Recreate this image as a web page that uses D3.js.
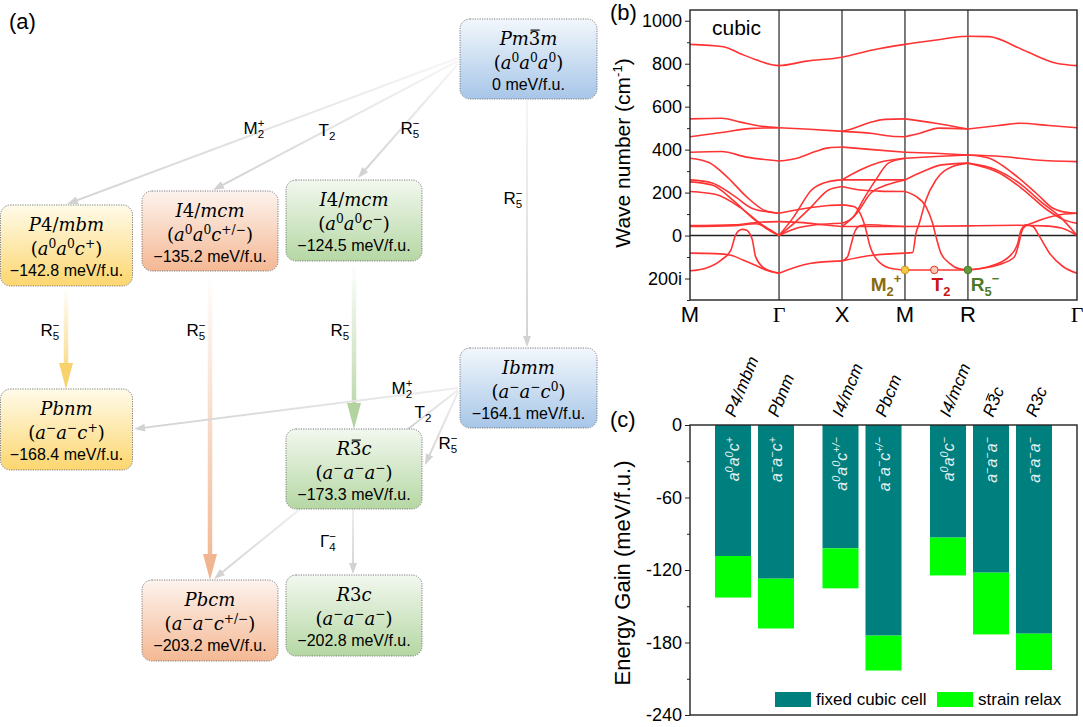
<!DOCTYPE html>
<html>
<head>
<meta charset="utf-8">
<script src="https://cdn.jsdelivr.net/npm/d3@7"></script>
<style>
  body { margin: 0; background: #fff; }
  svg { display: block; font-family: "Liberation Sans", Arial, sans-serif; }
</style>
</head>
<body>
<svg width="1083" height="727"></svg>
<script>
// ---------- (a) phase tree ----------
const phaseNames = ["Pm3\u0304m", "P4/mbm", "I4/mcm", "I4/mcm", "Ibmm", "Pbnm", "R3\u0304c", "Pbcm", "R3c"];
const phaseTilts = ["(a^0a^0a^0)", "(a^0a^0c^+)", "(a^0a^0c^{+/−})", "(a^0a^0c^−)", "(a^−a^−c^0)",
                    "(a^−a^−c^+)", "(a^−a^−a^−)", "(a^−a^−c^{+/−})", "(a^−a^−a^−)"];
const phaseEnergies = [0, -142.8, -135.2, -124.5, -164.1, -168.4, -173.3, -203.2, -202.8];
const phaseFamily = ["blue", "yellow", "orange", "green", "blue", "yellow", "green", "orange", "green"];
// [from, to, irrep]
const transitions = [[0, 1, "M_2^+"], [0, 2, "T_2"], [0, 3, "R_5^−"], [0, 4, "R_5^−"],
                     [1, 5, "R_5^−"], [2, 7, "R_5^−"], [3, 6, "R_5^−"],
                     [4, 5, "M_2^+"], [4, 6, "T_2"], [4, 6, "R_5^−"], [6, 7, ""], [6, 8, "Γ_4^−"]];

// ---------- (b) phonon bands of the cubic phase ----------
const kTicks = [0, 1.414, 2.414, 3.414, 4.414, 6.146];
const kLabels = ["M", "Γ", "X", "M", "R", "Γ"];
const freqTicks = [-200, 0, 200, 400, 600, 800, 1000];
// each band: [k, wave number], imaginary modes negative
const bands = [
  [[0,890],[0.53,879],[0.79,848],[1.06,817],[1.414,791],[1.85,812],[2.414,830],[2.9,864],[3.414,890],[3.91,910],[4.414,928],[4.75,926],[5.29,864],[5.82,802],[6.146,791]],
  // M-Γ
  [[0,543],[0.5,546],[0.8,528],[1.1,510],[1.414,502]],
  [[0,460],[0.5,480],[1.0,499],[1.414,502]],
  [[0,388],[0.5,391],[0.9,365],[1.414,347]],
  [[0,360],[0.3,340],[0.6,270],[0.9,180],[1.2,115],[1.414,104]],
  [[0,259],[0.35,245],[0.7,185],[1.0,125],[1.414,104]],
  [[0,250],[0.35,235],[0.7,160],[1.0,80],[1.25,25],[1.414,0]],
  [[0,205],[0.4,192],[0.8,130],[1.1,60],[1.414,0]],
  [[0,42],[0.7,46],[1.05,55],[1.25,30],[1.414,0]],
  [[0,46],[0.7,50],[1.1,62],[1.414,65]],
  [[0,-82],[0.4,-84],[0.65,-92],[0.85,-115],[1.02,-136],[1.2,-160],[1.414,-175]],
  [[0,-164],[0.25,-152],[0.5,-113],[0.65,-67],[0.72,0],[0.77,22],[0.83,29],[0.9,25],[0.95,8],[0.99,-20],[1.04,-97],[1.18,-152],[1.414,-175]],
  // Γ-X
  [[1.414,502],[1.9,495],[2.414,485]],
  [[1.414,347],[1.7,360],[2.0,392],[2.2,408],[2.414,412]],
  [[1.414,104],[1.8,125],[2.2,140],[2.414,143]],
  [[1.414,0],[1.65,88],[1.93,212],[2.2,251],[2.414,259]],
  [[1.414,0],[1.65,57],[1.93,135],[2.2,212],[2.414,228]],
  [[1.414,0],[1.7,35],[2.0,50],[2.414,57]],
  [[1.414,65],[1.8,60],[2.1,50],[2.414,42]],
  [[1.414,-175],[1.9,-130],[2.414,-118]],
  // X-M
  [[2.414,485],[2.6,500],[2.9,530],[3.1,541],[3.414,543]],
  [[2.414,485],[2.9,475],[3.2,462],[3.414,460]],
  [[2.414,412],[2.9,400],[3.414,388]],
  [[2.414,259],[2.7,305],[3.0,340],[3.414,360]],
  [[2.414,259],[3.414,259]],
  [[2.414,228],[2.7,212],[3.0,207],[3.414,205]],
  [[2.414,57],[2.6,89],[2.75,166],[2.95,259],[3.15,337],[3.414,360]],
  [[2.414,42],[2.65,104],[2.87,197],[3.13,236],[3.414,259]],
  [[2.414,143],[2.6,135],[2.7,104],[2.78,42],[2.86,-51],[2.97,-113],[3.18,-152],[3.414,-160]],
  [[2.414,42],[3.414,42]],
  [[2.414,-118],[2.9,-92],[3.414,-82]],
  [[2.414,-118],[2.5,-100],[2.56,-40],[2.62,20],[2.7,45],[2.85,50],[3.1,47],[3.414,42]],
  // M-R
  [[3.414,543],[3.9,523],[4.414,496]],
  [[3.414,460],[3.65,476],[3.95,500],[4.414,496]],
  [[3.414,388],[3.9,383],[4.414,375]],
  [[3.414,360],[3.9,368],[4.414,375]],
  [[3.414,259],[3.7,298],[4.0,329],[4.414,337]],
  [[3.414,205],[3.589,182],[3.747,135],[3.853,57],[3.906,-4],[3.985,-82],[4.117,-128],[4.276,-155],[4.414,-160]],
  [[3.414,-82],[3.536,-79],[3.589,11],[3.641,57],[3.747,166],[3.906,259],[4.17,321],[4.414,337]],
  [[3.414,42],[4.414,45]],
  [[3.414,-160],[4.414,-160]],
  // R-Γ
  [[4.414,496],[4.9,512],[5.25,523],[5.7,512],[6.146,502]],
  [[4.414,375],[4.95,368],[5.5,352],[6.146,344]],
  [[4.414,375],[4.754,360],[5.126,290],[5.498,197],[5.765,127],[5.976,108],[6.146,104]],
  [[4.414,337],[4.86,306],[5.23,244],[5.6,151],[5.87,89],[6.146,0]],
  [[4.414,337],[4.92,290],[5.3,212],[5.67,120],[5.94,73],[6.146,57]],
  [[4.414,45],[5.2,48],[5.6,45],[5.9,35],[6.146,0]],
  [[4.414,-160],[4.754,-144],[5.073,-97],[5.206,-36],[5.259,26],[5.339,50],[5.445,42],[5.55,-4],[5.71,-82],[5.923,-144],[6.146,-175]],
  [[4.414,-160],[4.9,-136],[5.15,-100],[5.22,-40],[5.27,20],[5.33,45],[5.45,60],[5.7,85],[5.95,100],[6.146,104]]
];
// unstable modes marked on the plot
const softModes = [[3.414, -160, "M_2^+"], [3.88, -160, "T_2"], [4.414, -160, "R_5^−"]];

// ---------- (c) energy gain ----------
const barPhases = ["P4/mbm", "Pbnm", "I4/mcm", "Pbcm", "I4/mcm", "R3\u0304c", "R3c"];
const barTilts = ["a^0a^0c^+", "a^−a^−c^+", "a^0a^0c^{+/−}", "a^−a^−c^{+/−}", "a^0a^0c^−", "a^−a^−a^−", "a^−a^−a^−"];
const barGroup = [0, 0, 1, 1, 2, 2, 2];
const fixedCell = [-108.4, -127.2, -102.1, -174.3, -93.2, -122.2, -172.7];
const strainRelax = [-142.8, -168.4, -135.2, -203.2, -124.5, -173.3, -202.8];
const gainTicks = [0, -60, -120, -180, -240];

const svg = d3.select("svg");
const defs = svg.append("defs");

// text with ^sup and _sub, optional italic letters, \u0304 = overbar on previous char
function rich(g, str, o) {
  const t = g.append("text")
    .attr("x", o.x).attr("y", o.y)
    .attr("font-size", o.size)
    .attr("text-anchor", o.anchor || "middle")
    .attr("fill", o.fill || "#000");
  if (o.family) t.attr("font-family", o.family);
  if (o.weight) t.attr("font-weight", o.weight);
  if (o.italic) t.attr("font-style", "italic");
  if (o.transform) t.attr("transform", o.transform);
  let i = 0, cur = 0, lastSub = null, nChar = 0;
  const bars = [];
  while (i < str.length) {
    let c = str[i], kind = "n", s;
    if (c === "^" || c === "_") {
      kind = c === "^" ? "sup" : "sub";
      i++;
      if (str[i] === "{") { const e = str.indexOf("}", i); s = str.slice(i + 1, e); i = e + 1; }
      else { s = str[i]; i++; }
    } else {
      s = c; i++;
      if (str[i] === "\u0304") { bars.push(nChar); i++; }
    }
    const fs = kind === "n" ? o.size : o.size * 0.68;
    const target = kind === "sup" ? -o.size * 0.4 : kind === "sub" ? o.size * 0.25 : 0;
    const ts = t.append("tspan").attr("dy", target - cur).attr("font-size", fs).text(s);
    if (kind === "sup" && lastSub && o.stack !== false) ts.attr("dx", -lastSub.node().getComputedTextLength());
    if (o.italicLetters && kind === "n" && /[a-zA-Z]/.test(s)) ts.attr("font-style", "italic");
    lastSub = kind === "sub" ? ts : null;
    cur = target;
    nChar += s.length;
  }
  bars.forEach(ci => {
    const e = t.node().getExtentOfChar(ci);
    const ln = g.append("line")
      .attr("x1", e.x + e.width * 0.15).attr("x2", e.x + e.width * 0.95)
      .attr("y1", e.y + e.height * 0.1).attr("y2", e.y + e.height * 0.1)
      .attr("stroke", o.fill || "#000").attr("stroke-width", o.size / 16);
    if (o.transform) ln.attr("transform", o.transform);
  });
  return t;
}

// ======================= (a) =======================
const boxLayout = [
  {x: 460, y: 19, w: 137, h: 80}, {x: 0.5, y: 205, w: 132, h: 81}, {x: 142, y: 191, w: 136, h: 80},
  {x: 286, y: 180, w: 136, h: 81}, {x: 460, y: 348, w: 137, h: 80}, {x: 0.5, y: 389, w: 132, h: 81},
  {x: 286, y: 429, w: 136, h: 80}, {x: 142, y: 580, w: 136, h: 81}, {x: 286, y: 575, w: 136, h: 81}
];
const familyColors = {
  blue: ["#f2f7fc", "#a7c6e8"], yellow: ["#fffbea", "#fcd66f"],
  orange: ["#fdf3ee", "#f4b893"], green: ["#f2f8ef", "#b5d7a3"]
};
Object.entries(familyColors).forEach(([k, c]) => {
  const gr = defs.append("linearGradient").attr("id", "box-" + k)
    .attr("x1", 0).attr("y1", 0).attr("x2", 0).attr("y2", 1);
  gr.append("stop").attr("offset", "0%").attr("stop-color", c[0]);
  gr.append("stop").attr("offset", "100%").attr("stop-color", c[1]);
});

// arrow geometry for each transition
const arrowLayout = [
  {from: [458, 58], to: [67, 204], lab: [254, 128]},
  {from: [458, 61], to: [213, 190], lab: [327, 130]},
  {from: [458, 64], to: [358, 178], lab: [410, 128]},
  {from: [527, 100], to: [527, 347], lab: [513, 198]},
  {from: [66, 287], to: [66, 389], lab: [50, 330], thick: "yellow"},
  {from: [210, 272], to: [210, 580], lab: [196, 330], thick: "orange"},
  {from: [354, 262], to: [354, 429], lab: [340, 330], thick: "green"},
  {from: [458, 388], to: [134, 429], lab: [402, 388]},
  {from: [458, 390], to: [408, 429], lab: [423, 412], noHead: true},
  {from: [458, 392], to: [425, 465], lab: [448, 443]},
  {from: [300, 509], to: [214, 579], lab: null},
  {from: [353, 509], to: [353, 574], lab: [328, 541]}
];

const ga = svg.append("g");
const gArrows = ga.append("g");

transitions.forEach((tr, i) => {
  const L = arrowLayout[i];
  const [x1, y1] = L.from, [x2, y2] = L.to;
  const gid = "arr-" + i;
  const thick = !!L.thick;
  const endColor = thick ? d3.color(familyColors[L.thick][1]).darker(0.05) : "#d2d2d2";
  const startColor = thick ? "#ffffff" : (i < 4 ? "#f6f6f6" : "#eeeeee");
  const gr = defs.append("linearGradient").attr("id", gid).attr("gradientUnits", "userSpaceOnUse")
    .attr("x1", x1).attr("y1", y1).attr("x2", x2).attr("y2", y2);
  gr.append("stop").attr("offset", "0%").attr("stop-color", startColor);
  gr.append("stop").attr("offset", "100%").attr("stop-color", endColor);
  const dx = x2 - x1, dy = y2 - y1, len = Math.hypot(dx, dy), ux = dx / len, uy = dy / len;
  const hl = thick ? 26 : 11, hw = thick ? 14 : 8;
  const bx = x2 - ux * hl, by = y2 - uy * hl;
  gArrows.append("line")
    .attr("x1", x1).attr("y1", y1)
    .attr("x2", L.noHead ? x2 : bx + ux * 2).attr("y2", L.noHead ? y2 : by + uy * 2)
    .attr("stroke", `url(#${gid})`)
    .attr("stroke-width", thick ? 4.5 : 2);
  if (!L.noHead) {
    gArrows.append("path")
      .attr("d", `M${x2},${y2}L${bx - uy * hw / 2},${by + ux * hw / 2}L${bx + uy * hw / 2},${by - ux * hw / 2}Z`)
      .attr("fill", endColor);
  }
  if (L.lab && tr[2]) {
    rich(gArrows, tr[2], {x: L.lab[0], y: L.lab[1] + 6, size: 17});
  }
});

const fmtE = d3.format(".1f");
const boxes = ga.selectAll("g.box").data(phaseNames).join("g").attr("class", "box")
  .attr("transform", (d, i) => `translate(${boxLayout[i].x},${boxLayout[i].y})`);
boxes.append("rect")
  .attr("width", (d, i) => boxLayout[i].w).attr("height", (d, i) => boxLayout[i].h)
  .attr("rx", 10).attr("ry", 10)
  .attr("fill", (d, i) => `url(#box-${phaseFamily[i]})`)
  .attr("stroke", "#707070").attr("stroke-width", 0.9).attr("stroke-dasharray", "1.2,1.2");
boxes.each(function (d, i) {
  const g = d3.select(this), cx = boxLayout[i].w / 2;
  rich(g, d, {x: cx, y: 26, size: 18, family: "DejaVu Serif", italicLetters: true});
  rich(g, phaseTilts[i], {x: cx, y: 50, size: 18, family: "DejaVu Serif", italicLetters: true});
  g.append("text").attr("x", cx).attr("y", 71).attr("text-anchor", "middle")
    .attr("font-size", 16)
    .text((phaseEnergies[i] === 0 ? "0" : fmtE(phaseEnergies[i])) + " meV/f.u.");
});

svg.append("text").attr("x", 9).attr("y", 29).attr("font-size", 22).text("(a)");

// ======================= (b) =======================
const xB = d3.scaleLinear().domain([0, 6.146]).range([690, 1077]);
const yB = d3.scaleLinear().domain([-300, 1050]).range([300, 10]);
const gb = svg.append("g");

defs.append("clipPath").attr("id", "clipB").append("rect")
  .attr("x", 690).attr("y", 10).attr("width", 387).attr("height", 290);

gb.selectAll("line.kline").data(kTicks.slice(1, -1)).join("line").attr("class", "kline")
  .attr("x1", d => xB(d)).attr("x2", d => xB(d)).attr("y1", 10).attr("y2", 300)
  .attr("stroke", "#111").attr("stroke-width", 1.1);
gb.append("line").attr("x1", 690).attr("x2", 1077).attr("y1", yB(0)).attr("y2", yB(0))
  .attr("stroke", "#222").attr("stroke-width", 1.6);

const bandLine = d3.line().x(d => xB(d[0])).y(d => yB(d[1])).curve(d3.curveMonotoneX);
gb.append("g").attr("clip-path", "url(#clipB)")
  .selectAll("path").data(bands).join("path")
  .attr("d", bandLine).attr("fill", "none")
  .attr("stroke", "#ff3333").attr("stroke-width", 1.6);

gb.append("rect").attr("x", 690).attr("y", 10).attr("width", 387).attr("height", 290)
  .attr("fill", "none").attr("stroke", "#222").attr("stroke-width", 1.4);

const axB = gb.append("g").attr("transform", "translate(690,0)")
  .call(d3.axisLeft(yB).tickValues(freqTicks).tickSize(5).tickPadding(3)
    .tickFormat(d => d < 0 ? `${-d}i` : d));
axB.select(".domain").remove();
axB.selectAll("text").attr("font-size", 18).attr("font-family", "Liberation Sans");
axB.selectAll("line").attr("stroke", "#222");
const axBm = gb.append("g").attr("transform", "translate(690,0)")
  .call(d3.axisLeft(yB).tickValues([-300, -100, 100, 300, 500, 700, 900]).tickSize(3).tickFormat(""));
axBm.select(".domain").remove();
axBm.selectAll("line").attr("stroke", "#222");

gb.selectAll("text.klab").data(kLabels).join("text").attr("class", "klab")
  .attr("x", (d, i) => xB(kTicks[i])).attr("y", 322).attr("text-anchor", "middle")
  .attr("font-size", 22)
  .attr("font-family", d => d === "Γ" ? "Liberation Serif" : "Liberation Sans")
  .text(d => d);

gb.append("text").attr("transform", "translate(630,153) rotate(-90)")
  .attr("text-anchor", "middle").attr("font-size", 21)
  .html('Wave number (cm<tspan dy="-8" font-size="13">-1</tspan><tspan dy="8">)</tspan>');
gb.append("text").attr("x", 712).attr("y", 35).attr("font-size", 21).text("cubic");
svg.append("text").attr("x", 610).attr("y", 20).attr("font-size", 22).text("(b)");

const softFill = ["#f7c948", "#ffc9b5", "#5f9b3c"];
const softStroke = ["#c99a10", "#e0322a", "#4a7d2c"];
const softText = ["#8a6b0c", "#c81414", "#4d7a2a"];
const labX = [886, 941, 985];
softModes.forEach((m, i) => {
  gb.append("circle").attr("cx", xB(m[0])).attr("cy", yB(m[1])).attr("r", 3.8)
    .attr("fill", softFill[i]).attr("stroke", softStroke[i]).attr("stroke-width", 1);
  rich(gb, m[2], {x: labX[i], y: 291, size: 19, weight: "bold", fill: softText[i], stack: false});
});

// ======================= (c) =======================
const xC = d3.scaleLinear().domain([-1, 8]).range([690, 1077]);
const yC = d3.scaleLinear().domain([-240, 0]).range([715, 425]);
const gc = svg.append("g");
const barW = 36;
const slot = i => i + 0.5 * barGroup[i];

gc.selectAll("rect.fixed").data(fixedCell).join("rect").attr("class", "fixed")
  .attr("x", (d, i) => xC(slot(i)) - barW / 2).attr("width", barW)
  .attr("y", yC(0)).attr("height", d => yC(d) - yC(0))
  .attr("fill", "#007f7f");
gc.selectAll("rect.relax").data(strainRelax).join("rect").attr("class", "relax")
  .attr("x", (d, i) => xC(slot(i)) - barW / 2).attr("width", barW)
  .attr("y", (d, i) => yC(fixedCell[i])).attr("height", (d, i) => yC(d) - yC(fixedCell[i]))
  .attr("fill", "#00ff00");

barTilts.forEach((s, i) => {
  const cx = xC(slot(i)) + 6;
  rich(gc, s, {x: cx, y: 437, size: 16, anchor: "end", italic: true, fill: "#e3f1f1",
    transform: `rotate(-90,${cx},437)`});
});
barPhases.forEach((s, i) => {
  const ax = xC(slot(i)) + 2;
  rich(gc, s, {x: ax, y: 418, size: 17, anchor: "start", italic: true,
    transform: `rotate(-68,${ax},418)`});
});

gc.append("rect").attr("x", 690).attr("y", 425).attr("width", 387).attr("height", 290)
  .attr("fill", "none").attr("stroke", "#222").attr("stroke-width", 1.4);
const axC = gc.append("g").attr("transform", "translate(690,0)")
  .call(d3.axisLeft(yC).tickValues(gainTicks).tickSize(5).tickPadding(3).tickFormat(d => String(d)));
axC.select(".domain").remove();
axC.selectAll("text").attr("font-size", 18).attr("font-family", "Liberation Sans");
axC.selectAll("line").attr("stroke", "#222");
const axCm = gc.append("g").attr("transform", "translate(690,0)")
  .call(d3.axisLeft(yC).tickValues([-30, -90, -150, -210]).tickSize(3).tickFormat(""));
axCm.select(".domain").remove();
axCm.selectAll("line").attr("stroke", "#222");

gc.append("text").attr("transform", "translate(630,573) rotate(-90)")
  .attr("text-anchor", "middle").attr("font-size", 22).text("Energy Gain (meV/f.u.)");
svg.append("text").attr("x", 610).attr("y", 427).attr("font-size", 22).text("(c)");

const legendItems = [["fixed cubic cell", "#007f7f", 775], ["strain relax", "#00ff00", 937]];
legendItems.forEach(([t, c, x]) => {
  gc.append("rect").attr("x", x).attr("y", 692).attr("width", 36).attr("height", 15).attr("fill", c);
  gc.append("text").attr("x", x + 41).attr("y", 705).attr("font-size", 17).text(t);
});
</script>
</body>
</html>
